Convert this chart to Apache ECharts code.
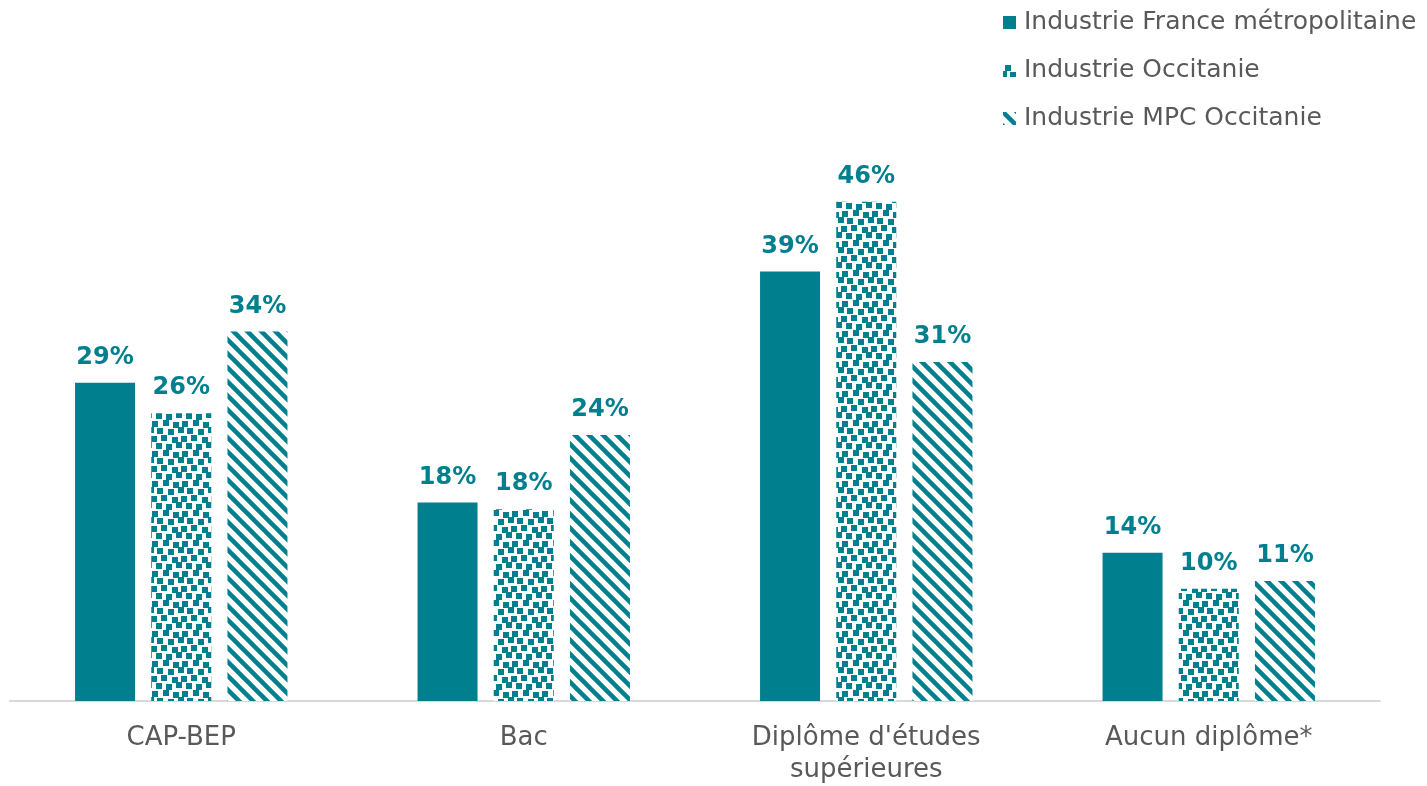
<!DOCTYPE html>
<html><head><meta charset="utf-8">
<script src="https://cdn.jsdelivr.net/npm/echarts@6/dist/echarts.min.js"></script>
<style>html,body{margin:0;padding:0;background:#fff}#c{width:1427px;height:786px}</style>
</head><body><div id="c"></div>
<script>
const categories = ["CAP-BEP", "Bac", "Diplôme d'études\nsupérieures", "Aucun diplôme*"];
const seriesNames = ["Industrie France métropolitaine", "Industrie Occitanie", "Industrie MPC Occitanie"];
const franceValues = [29.2, 18.2, 39.4, 13.6];
const occitanieValues = [26.4, 17.6, 45.8, 10.3];
const mpcValues = [33.9, 24.4, 31.1, 11.0];

const TEAL = '#00808F';
const FONT = 'DejaVu Sans';

function confetti() {
  const s = 30;
  const c = document.createElement('canvas'); c.width = s; c.height = s;
  const g = c.getContext('2d');
  g.fillStyle = '#fff'; g.fillRect(0,0,s,s);
  g.fillStyle = TEAL;
  const pts = [[2,1],[13,0],[23,2],[7,8],[18,9],[28,7],[1,16],[11,15],[22,17],[6,23],[16,24],[26,22]];
  pts.forEach(p => {
    [[0,0],[-s,0],[0,-s],[-s,-s]].forEach(o => g.fillRect(p[0]+o[0], p[1]+o[1], 6, 6));
  });
  return c;
}
function stripes() {
  const s = 14;
  const c = document.createElement('canvas'); c.width = s; c.height = s;
  const g = c.getContext('2d');
  g.fillStyle = '#fff'; g.fillRect(0,0,s,s);
  g.strokeStyle = TEAL; g.lineWidth = 4.5;
  [-s, 0, s].forEach(k => { g.beginPath(); g.moveTo(-2, -2 + k); g.lineTo(s + 2, s + 2 + k); g.stroke(); });
  return c;
}

const colors = [TEAL, {image: confetti(), repeat: 'repeat'}, {image: stripes(), repeat: 'repeat'}];
const allValues = [franceValues, occitanieValues, mpcValues];

const chart = echarts.init(document.getElementById('c'), null, {renderer: 'canvas'});
chart.setOption({
  animation: false,
  backgroundColor: '#fff',
  grid: {left: 10, right: 47, top: 156, bottom: 80},
  legend: {
    orient: 'vertical', left: 1003, top: 9, padding: 0,
    itemWidth: 13, itemHeight: 13, itemGap: 21,
    icon: 'rect',
    textStyle: {fontFamily: FONT, fontSize: 25, color: '#595959', lineHeight: 27, padding: [0,0,0,3]},
    data: seriesNames
  },
  xAxis: {
    type: 'category', data: categories,
    axisLine: {lineStyle: {color: '#D9D9D9', width: 2}},
    axisTick: {show: false},
    axisLabel: {fontFamily: FONT, fontSize: 26, color: '#595959', margin: 21, lineHeight: 32, interval: 0}
  },
  yAxis: {type: 'value', min: 0, max: 50, show: false, splitLine: {show: false}},
  series: seriesNames.map((n, i) => ({
    name: n, type: 'bar', data: allValues[i],
    barWidth: 60, barGap: '27%',
    itemStyle: {color: colors[i]},
    label: {
      show: true, position: 'top', distance: 13,
      fontFamily: FONT, fontWeight: 'bold', fontSize: 24, color: TEAL,
      formatter: p => Math.round(p.value) + '%'
    }
  }))
});
</script></body></html>
